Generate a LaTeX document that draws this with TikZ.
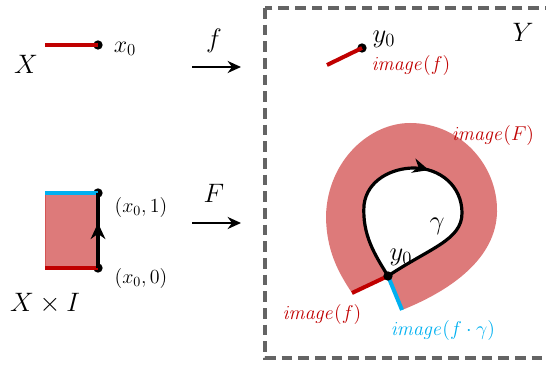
\RequirePackage{fix-cm}
\documentclass[tikz,border=0pt]{standalone}
\usetikzlibrary{arrows.meta,decorations.markings}
\definecolor{darkred}{RGB}{192,0,0}
\definecolor{skyblue}{RGB}{0,176,240}
\definecolor{salmon}{RGB}{221,122,122}
\definecolor{boxgray}{RGB}{100,100,100}

\begin{document}
\begin{tikzpicture}[
  x=0.75pt, y=-0.75pt,
  font=\fontsize{15}{17}\selectfont,
  redseg/.style={draw=darkred, line width=3pt},
  blueseg/.style={draw=skyblue, line width=3pt},
  pt/.style={circle, fill=black, inner sep=0pt, minimum size=7pt},
  big/.style={font=\fontsize{20}{22}\selectfont},
  map/.style={-{Stealth[length=10pt,width=9pt]}, line width=2pt},
  midarrow/.style={postaction={decorate}, decoration={markings,
    mark=at position #1 with {\arrow{Stealth[length=12pt,width=11pt]}}}}
]
\useasboundingbox (0,0) rectangle (546,370);

% target space
\draw[boxgray, line width=2.4pt, dash pattern=on 8pt off 4.5pt]
  (265,8) rectangle (552,358);
\node[big] (Y) at (523,32) {$Y$};

% the space X and the map f
\node[big] (X) at (26,64) {$X$};
\coordinate (xl) at (45,45);
\node[pt] (x0) at (98,45) {};
\draw[redseg] (xl) -- (x0.center);
\node[font=\fontsize{18}{20}\selectfont] (x0lbl) at (125,49) {$x_0$};

\coordinate (fs) at (192,67);
\coordinate (fe) at (241,67);
\draw[map] (fs) -- (fe);
\node[big] (flbl) at (214,41) {$f$};

% image of f
\coordinate (yl) at (327,65);
\node[pt] (y0) at (362,48) {};
\draw[redseg] (yl) -- (y0.center);
\node[big] (y0lbl) at (384,39) {$y_0$};
\node[darkred] (imf) at (411,66) {$\mathit{image}(f)$};

% the square X x I
\coordinate (r00) at (45,268);
\coordinate (r01) at (45,193);
\node[pt] (p0) at (98,268) {};
\node[pt] (p1) at (98,193) {};
\fill[salmon] (r00) rectangle (p1.center);
\draw[salmon!70!darkred, line width=0.6pt] (r00) -- (r01);
\draw[blueseg] (r01) -- (p1.center);
\draw[redseg] (r00) -- (p0.center);
\draw[line width=2.8pt, midarrow=0.6] (p0.center) -- (p1.center);
\node (p1lbl) at (141,208) {$(x_0,1)$};
\node (p0lbl) at (141,278) {$(x_0,0)$};
\node[big] (XI) at (45,303) {$X\times I$};

\coordinate (Fs) at (192,223);
\coordinate (Fe) at (241,223);
\draw[map] (Fs) -- (Fe);
\node[big] (Flbl) at (214,193) {$F$};

% image of F
\coordinate (J) at (388,276);
\coordinate (R) at (352,293);
\coordinate (B) at (402,310);
\fill[salmon, even odd rule]
  (R) .. controls (338,272) and (326,250) .. (326,215)
      .. controls (328,160) and (370,123) .. (410,123)
      .. controls (460,123) and (498,165) .. (497,212)
      .. controls (496,258) and (452,290) .. (B) -- (J) -- cycle
  (J) .. controls (375,255) and (362,235) .. (364,205)
      .. controls (367,180) and (392,168) .. (414,168)
      .. controls (440,168) and (462,186) .. (462,213)
      .. controls (462,240) and (430,248) .. (J);
\draw[redseg] (J) -- (R);
\draw[blueseg] (J) -- (B);
\draw[line width=2.4pt, midarrow=0.5]
  (J) .. controls (375,255) and (362,235) .. (364,205)
      .. controls (367,180) and (392,168) .. (414,168)
      .. controls (440,168) and (462,186) .. (462,213)
      .. controls (462,240) and (430,248) .. (J);
\node[pt] (y0b) at (J) {};
\node[big] (y0blbl) at (401,257) {$y_0$};
\node[big] (gam) at (437,226) {$\gamma$};
\node[darkred] (imF) at (493,136) {$\mathit{image}(F)$};
\node[darkred] (imfb) at (322,315) {$\mathit{image}(f)$};
\node[skyblue] (imfg) at (443,330) {$\mathit{image}(f\cdot\gamma)$};
\end{tikzpicture}
\end{document}
